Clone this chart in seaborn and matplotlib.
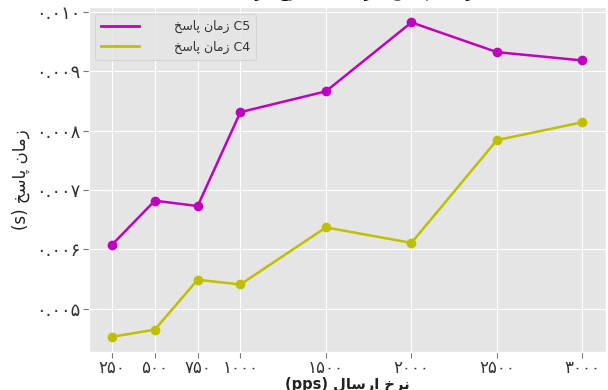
import matplotlib
matplotlib.use("Agg")
import matplotlib.pyplot as plt
from matplotlib.lines import Line2D
import seaborn as sns
import pandas as pd

# Send rate (packets per second) and measured response times (seconds)
rates = [250, 500, 750, 1000, 1500, 2000, 2500, 3000]
c5_times = [0.00608, 0.00682, 0.00673, 0.00831, 0.00866, 0.00982, 0.00932, 0.00918]
c4_times = [0.00453, 0.00465, 0.00549, 0.00541, 0.00637, 0.00611, 0.00784, 0.00814]
y_ticks = [0.005, 0.006, 0.007, 0.008, 0.009, 0.010]

# Persian strings written with presentation forms in visual (left-to-right) order
RESP = "\ufea6\ufeb3\ufe8e\ufb58 \ufee5\ufe8e\ufee3\ufeaf"          # زمان پاسخ
RATE = "\ufedd\ufe8e\ufeb3\ufead\ufe8d \ufea5\ufeae\ufee7"          # نرخ ارسال
VS = "\ufede\ufe91\ufe8e\ufed8\ufee3 \ufead\ufea9"                  # در مقابل
title_txt = RATE + " " + VS + " " + RESP
series_names = [RESP + " C5", RESP + " C4"]
series_colors = {series_names[0]: "m", series_names[1]: "y"}

FA_DIGITS = str.maketrans("0123456789", "۰۱۲۳۴۵۶۷۸۹")


def fa(s):
    return s.translate(FA_DIGITS)


df = pd.DataFrame({
    "rate": rates * 2,
    "time": c5_times + c4_times,
    "series": [series_names[0]] * len(rates) + [series_names[1]] * len(rates),
})

plt.style.use("ggplot")
plt.rcParams["font.family"] = ["DejaVu Sans"]

fig = plt.figure(figsize=(6.08, 3.90), dpi=100)
ax = fig.add_axes([0.1457, 0.0962, 0.851, 0.8866])

sns.lineplot(
    data=df, x="rate", y="time", hue="series", palette=series_colors,
    marker="o", markersize=7, markeredgewidth=0, linewidth=1.8, ax=ax,
    legend=False,
)

ax.set_xticks(rates)
ax.set_xticklabels([fa(str(r)) for r in rates], fontsize=12, color="#333333")
ax.set_yticks(y_ticks)
ax.set_yticklabels([fa(f"{v:.3f}") for v in y_ticks], fontsize=13, color="#333333")
ax.tick_params(axis="x", length=4, color="#777777", pad=1)
ax.tick_params(axis="y", length=4, color="#777777", pad=2)

ax.set_xlabel("(pps) " + RATE, fontsize=10.5, color="#222222", labelpad=0,
              fontweight="bold")
ax.set_ylabel("(s) " + RESP, fontsize=12, color="#222222", labelpad=4)
ax.set_title(title_txt, fontsize=14, color="black", pad=8)

handles = [Line2D([], [], color=series_colors[n], linewidth=2) for n in series_names]
leg = ax.legend(
    handles, series_names, loc="upper left", fontsize=9,
    handlelength=3.0, handletextpad=2.8, borderpad=0.5, labelspacing=0.6,
    frameon=True, facecolor="#E5E5E5", edgecolor="#d0d0d0",
    labelcolor="#333333", bbox_to_anchor=(0.0, 0.998),
)
leg.get_frame().set_linewidth(0.8)

fig.savefig("out.png", dpi=100)
